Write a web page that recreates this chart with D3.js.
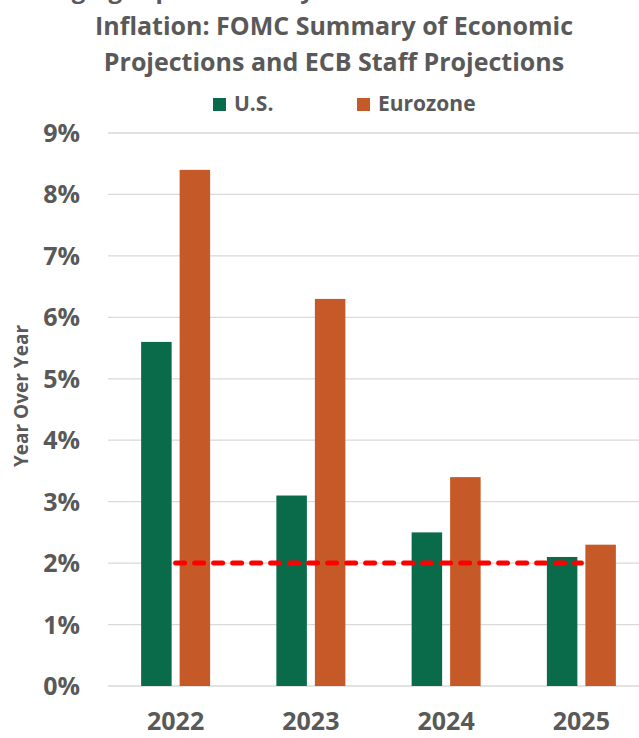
<!DOCTYPE html>
<html>
<head>
<meta charset="utf-8">
<script src="https://cdn.jsdelivr.net/npm/d3@7"></script>
<style>
  body { margin: 0; background: #fff; }
  svg text { font-family: "Open Sans", "DejaVu Sans", sans-serif; font-weight: 700; fill: #595959; }
</style>
</head>
<body>
<div id="chart"></div>
<script>
// data
const years = ["2022", "2023", "2024", "2025"];
const usValues = [5.6, 3.1, 2.5, 2.1];
const euroValues = [8.4, 6.3, 3.4, 2.3];
const targetValues = [2, 2, 2, 2];
const yTicks = [0, 1, 2, 3, 4, 5, 6, 7, 8, 9];
const seriesNames = ["U.S.", "Eurozone"];
const seriesColors = ["#0a6b4a", "#c55a28"];

const width = 639, height = 738;
const svg = d3.select("#chart").append("svg")
    .attr("width", width)
    .attr("height", height);

// scales
const x = d3.scaleBand().domain(years).range([108, 649]);
const y = d3.scaleLinear().domain([0, 9]).range([686, 133]);

// line of text above the chart, cut off by the top edge like in the source image
svg.append("text")
   .attr("x", 8)
   .attr("y", -2)
   .style("font-size", "24px")
   .text("Diverging Expected Policy Paths");

// title
svg.append("text")
   .attr("x", 334).attr("y", 35)
   .attr("text-anchor", "middle")
   .style("font-size", "25px")
   .text("Inflation: FOMC Summary of Economic");
svg.append("text")
   .attr("x", 334).attr("y", 71)
   .attr("text-anchor", "middle")
   .style("font-size", "25px")
   .text("Projections and ECB Staff Projections");

// legend
const legendX = [213, 357];
const legend = svg.selectAll(".legend")
    .data(seriesNames)
    .enter()
    .append("g")
    .attr("class", "legend")
    .attr("transform", (d, i) => `translate(${legendX[i]}, 98)`);
legend.append("rect")
    .attr("width", 13).attr("height", 13)
    .attr("fill", (d, i) => seriesColors[i]);
legend.append("text")
    .attr("x", 21).attr("y", 13)
    .style("font-size", "21px")
    .text(d => d);

// gridlines
svg.selectAll(".grid")
   .data(yTicks)
   .enter()
   .append("line")
   .attr("class", "grid")
   .attr("x1", 108).attr("x2", width)
   .attr("y1", d => y(d)).attr("y2", d => y(d))
   .attr("stroke", "#d9d9d9")
   .attr("stroke-width", 1.3);

// y axis labels
svg.selectAll(".ytick")
   .data(yTicks)
   .enter()
   .append("text")
   .attr("class", "ytick")
   .attr("x", 80)
   .attr("y", d => y(d) + 9)
   .attr("text-anchor", "end")
   .style("font-size", "25px")
   .text(d => d + "%");

// y axis title
svg.append("text")
   .attr("transform", "translate(28, 396) rotate(-90)")
   .attr("text-anchor", "middle")
   .style("font-size", "19px")
   .text("Year Over Year");

// bars
const barW = 30.5, gap = 8;
const groupW = barW * 2 + gap;
const offset = (x.bandwidth() - groupW) / 2;

svg.selectAll(".us")
   .data(usValues)
   .enter()
   .append("rect")
   .attr("class", "us")
   .attr("x", (d, i) => x(years[i]) + offset)
   .attr("y", d => y(d))
   .attr("width", barW)
   .attr("height", d => y(0) - y(d))
   .attr("fill", seriesColors[0]);

svg.selectAll(".euro")
   .data(euroValues)
   .enter()
   .append("rect")
   .attr("class", "euro")
   .attr("x", (d, i) => x(years[i]) + offset + barW + gap)
   .attr("y", d => y(d))
   .attr("width", barW)
   .attr("height", d => y(0) - y(d))
   .attr("fill", seriesColors[1]);

// 2% target line
const line = d3.line()
    .x((d, i) => x(years[i]) + x.bandwidth() / 2)
    .y(d => y(d));
svg.append("path")
   .datum(targetValues)
   .attr("d", line)
   .attr("fill", "none")
   .attr("stroke", "#ff0000")
   .attr("stroke-width", 5)
   .attr("stroke-linecap", "round")
   .attr("stroke-dasharray", "9 10");

// x labels
svg.selectAll(".xlabel")
   .data(years)
   .enter()
   .append("text")
   .attr("class", "xlabel")
   .attr("x", d => x(d) + x.bandwidth() / 2)
   .attr("y", 730)
   .attr("text-anchor", "middle")
   .style("font-size", "25px")
   .text(d => d);
</script>
</body>
</html>
